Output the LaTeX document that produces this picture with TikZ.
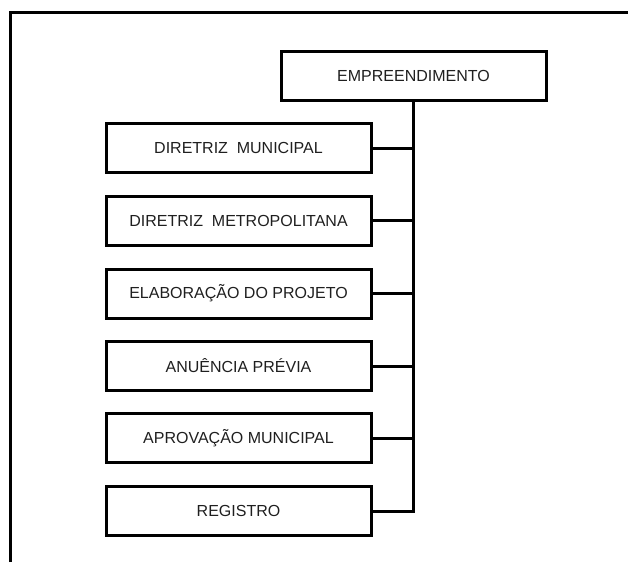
\documentclass[tikz,border=0pt]{standalone}
\usepackage{fontspec}
\setmainfont{Liberation Sans}
\begin{document}
\begin{tikzpicture}[x=1pt,y=-1pt,
  orgbox/.style={draw, line width=3pt, minimum width=265pt, minimum height=49pt, inner sep=0pt,
    text=black!88, font=\fontsize{16}{19}\selectfont},
  conn/.style={line width=3pt, line join=miter}]
\useasboundingbox (0,0) rectangle (628,562);
\draw[line width=3pt] (10.5,562) -- (10.5,12.5) -- (628,12.5);
\node[orgbox] (emp) at (413.5,75.5) {EMPREENDIMENTO};
\node[orgbox] (r1) at (238.5,148) {DIRETRIZ\ \ MUNICIPAL};
\node[orgbox] (r2) at (238.5,220.5) {DIRETRIZ\ \ METROPOLITANA};
\node[orgbox] (r3) at (238.5,293.5) {ELABORAÇÃO DO PROJETO};
\node[orgbox] (r4) at (238.5,366) {ANUÊNCIA PRÉVIA};
\node[orgbox] (r5) at (238.5,438) {APROVAÇÃO MUNICIPAL};
\node[orgbox] (r6) at (238.5,511) {REGISTRO};
\draw[conn] (emp.south) |- (r6.east);
\foreach \n in {r1,r2,r3,r4,r5}
  \draw[conn] (\n.east) -- (\n.east -| emp.south);
\end{tikzpicture}
\end{document}
